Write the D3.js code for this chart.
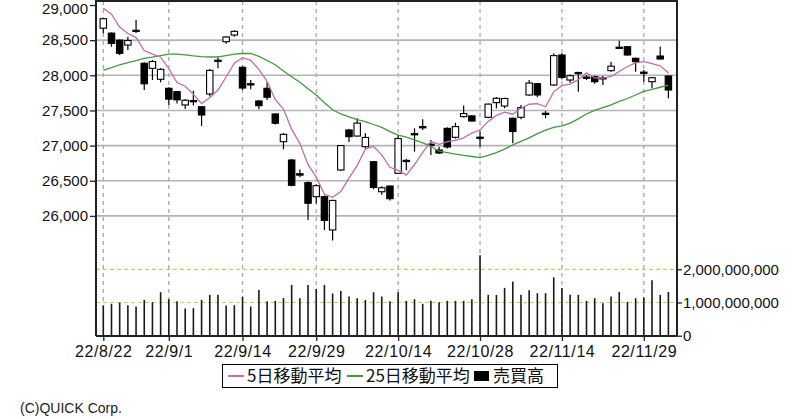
<!DOCTYPE html>
<html><head><meta charset="utf-8">
<script src="https://cdn.jsdelivr.net/npm/d3@7"></script>
<style>body{margin:0;background:#fff}svg{display:block}</style>
</head><body><svg id="c" width="800" height="419"></svg>
<script>
const dates = ["22/8/22","22/8/23","22/8/24","22/8/25","22/8/26","22/8/29","22/8/30","22/8/31","22/9/1","22/9/2",
"22/9/5","22/9/6","22/9/7","22/9/8","22/9/9","22/9/12","22/9/13","22/9/14","22/9/15","22/9/16",
"22/9/20","22/9/21","22/9/22","22/9/26","22/9/27","22/9/28","22/9/29","22/9/30","22/10/3","22/10/4",
"22/10/5","22/10/6","22/10/7","22/10/11","22/10/12","22/10/13","22/10/14","22/10/17","22/10/18","22/10/19",
"22/10/20","22/10/21","22/10/24","22/10/25","22/10/26","22/10/27","22/10/28","22/10/31","22/11/1","22/11/2",
"22/11/4","22/11/7","22/11/8","22/11/9","22/11/10","22/11/11","22/11/14","22/11/15","22/11/16","22/11/17",
"22/11/18","22/11/21","22/11/22","22/11/24","22/11/25","22/11/28","22/11/29","22/11/30","22/12/1","22/12/2"];
const open = [28670,28600,28500,28430,28630,28171,28099,27943,27815,27767,
27578,27640,27553,27734,28200,28478,28573,28114,27880,27635,
27815,27450,27056,26795,26600,26473,26273,26273,25800,26653,
27222,27136,26984,26771,26344,26425,26606,26790,27170,27270,
27020,26937,27245,27118,27412,27422,27120,27403,27611,27563,
27389,27403,27720,27880,27460,27862,28289,27933,28040,27975,
27980,27965,28066,28400,28407,28242,28045,27909,28274,27990];
const high = [28815,28610,28510,28549,28787,28185,28218,28100,27830,27775,
27660,27780,27560,28090,28265,28560,28640,28130,27933,27640,
27910,27460,27180,26810,26660,26490,26450,26290,26230,27010,
27235,27390,27175,26780,26420,26430,27150,26810,27246,27375,
27080,26984,27260,27325,27570,27430,27200,27600,27690,27680,
27400,27578,27933,27890,27492,28313,28313,28010,28052,28004,
27995,27990,28193,28492,28410,28250,28075,27975,28410,28000];
const low = [28597,28407,28289,28360,28600,27791,27933,27900,27578,27600,
27520,27570,27279,27700,28100,28450,28550,27790,27800,27516,
27649,27300,26947,26420,26550,25942,26180,25800,25650,26640,
27050,27130,26960,26380,26300,26220,26600,26650,26914,27222,
26866,26880,26960,27100,27400,27340,26984,27390,27530,27530,
27033,27375,27710,27687,27389,27848,27943,27895,27767,27933,
27880,27862,28050,28384,28280,28050,27909,27815,28225,27673];
const close = [28805,28453,28313,28495,28641,27879,28196,28085,27661,27651,
27645,27627,27435,28070,28215,28545,28625,27819,27876,27568,
27688,27318,27160,26435,26580,26180,26430,25937,26220,27000,
27127,27320,27116,26405,26400,26245,27100,26776,27160,27257,
27010,26895,26980,27270,27455,27350,27110,27590,27673,27670,
27200,27540,27890,27720,27446,28280,27970,27995,28028,27960,
27909,27955,28130,28395,28289,28193,28030,27966,28232,27791];
const ma5 = [28952,28869,28687,28594,28536,28353,28302,28257,28094,27896,
27844,27730,27598,27679,27791,27976,28173,28251,28213,28084,
27913,27653,27520,27231,27032,26729,26551,26307,26264,26348,
26538,26715,26951,26988,26869,26692,26648,26580,26731,26903,
27057,27017,27057,27076,27111,27179,27221,27344,27430,27476,
27447,27531,27588,27596,27552,27765,27852,27876,27938,28035,
27962,27959,27984,28055,28125,28178,28195,28165,28134,28033];
const ma25 = [28070,28110,28150,28180,28210,28240,28260,28280,28300,28300,
28290,28275,28265,28260,28262,28280,28300,28310,28310,28270,
28210,28150,28060,27980,27900,27810,27720,27610,27510,27450,
27410,27370,27340,27300,27260,27200,27150,27120,27080,27040,
26990,26920,26900,26880,26860,26845,26830,26860,26900,26950,
27010,27060,27110,27170,27220,27260,27280,27320,27380,27450,
27500,27540,27580,27630,27670,27720,27770,27800,27830,27860];
const volume = [910e6,960e6,1000e6,920e6,880e6,1080e6,1010e6,1310e6,1100e6,1040e6,
820e6,830e6,1080e6,1230e6,1230e6,910e6,920e6,1180e6,880e6,1380e6,
1040e6,1050e6,1130e6,1530e6,1130e6,1530e6,1410e6,1530e6,1270e6,1350e6,
1180e6,1130e6,1080e6,1310e6,1180e6,1040e6,1310e6,1050e6,1100e6,960e6,
1050e6,1010e6,1050e6,1050e6,1050e6,1100e6,2420e6,1230e6,1230e6,1440e6,
1630e6,1230e6,1370e6,1280e6,1280e6,1760e6,1440e6,1230e6,1230e6,1050e6,
1130e6,980e6,1180e6,1320e6,1020e6,1130e6,1150e6,1670e6,1230e6,1320e6];
const xTickLabels = ["22/8/22","22/9/1","22/9/14","22/9/29","22/10/14","22/10/28","22/11/14","22/11/29"];
const priceTicks = [26000,26500,27000,27500,28000,28500,29000];
const volumeTicks = [0,1000000000,2000000000];
const legendLabels = ["5日移動平均","25日移動平均","売買高"];

const svg = d3.select('#c');
const L = 96, R = 677, T = 1, B = 336;
const x = d3.scalePoint().domain(dates).range([103.3, 668.4]);
const y = d3.scaleLinear().domain([26000, 29000]).range([215.9, 5]);
const yv = d3.scaleLinear().domain([0, 2e9]).range([335.7, 269.3]);
const numFont = "'Liberation Sans', Arial, sans-serif";
const jpFont = "'Noto Sans CJK JP', sans-serif";

svg.append('rect').attr('width', 800).attr('height', 419).attr('fill', '#fff');

// horizontal price grid
svg.append('g').selectAll('line').data(priceTicks.filter(v => v < 29000)).join('line')
  .attr('x1', L).attr('x2', R).attr('y1', d => y(d)).attr('y2', d => y(d))
  .attr('stroke', '#b4b4b4').attr('stroke-width', 1.6);
// volume dashed grid
svg.append('g').selectAll('line').data(volumeTicks.filter(v => v > 0)).join('line')
  .attr('x1', L).attr('x2', R).attr('y1', d => yv(d)).attr('y2', d => yv(d))
  .attr('stroke', '#d8c860').attr('stroke-width', 1.2).attr('stroke-dasharray', '4,3');
// vertical dashed grid
svg.append('g').selectAll('line').data(xTickLabels).join('line')
  .attr('x1', d => x(d)).attr('x2', d => x(d)).attr('y1', T).attr('y2', B)
  .attr('stroke', '#a8a8a8').attr('stroke-width', 1.3).attr('stroke-dasharray', '4,4');

// volume bars
svg.append('g').selectAll('line').data(dates).join('line')
  .attr('x1', d => x(d)).attr('x2', d => x(d))
  .attr('y1', yv(0)).attr('y2', (d, i) => yv(volume[i]))
  .attr('stroke', '#1a1a1a').attr('stroke-width', 1.6);

// candles
const cg = svg.append('g');
dates.forEach((d, i) => {
  const cx = x(d);
  cg.append('line').attr('x1', cx).attr('x2', cx).attr('y1', y(high[i])).attr('y2', y(low[i]))
    .attr('stroke', '#000').attr('stroke-width', 1.2);
  const top = y(Math.max(open[i], close[i])), bot = y(Math.min(open[i], close[i]));
  const up = close[i] >= open[i];
  const h = Math.max(bot - top, 1.2);
  cg.append('rect').attr('x', cx - 3.2).attr('width', 6.4).attr('y', top).attr('height', h)
    .attr('fill', up ? '#fff' : '#000').attr('stroke', '#000').attr('stroke-width', 1.1);
});

// moving averages
const line = arr => d3.line().x((d, i) => x(dates[i])).y(d => y(d))(arr);
svg.append('path').attr('d', line(ma25)).attr('fill', 'none').attr('stroke', '#3c9c3c').attr('stroke-width', 1.3);
svg.append('path').attr('d', line(ma5)).attr('fill', 'none').attr('stroke', '#c46bb2').attr('stroke-width', 1.3);

// frame
const fr = svg.append('g').attr('stroke', '#222').attr('stroke-width', 2);
fr.append('line').attr('x1', L).attr('x2', R).attr('y1', T).attr('y2', T);
fr.append('line').attr('x1', L).attr('x2', L).attr('y1', 0).attr('y2', B);
fr.append('line').attr('x1', R).attr('x2', R).attr('y1', 0).attr('y2', B);
fr.append('line').attr('x1', L).attr('x2', R).attr('y1', B).attr('y2', B);

// axes
const ay = svg.append('g').attr('transform', `translate(${L},0)`)
  .call(d3.axisLeft(y).tickValues(priceTicks).tickFormat(d3.format(',')).tickSize(6).tickPadding(2));
const av = svg.append('g').attr('transform', `translate(${R},0)`)
  .call(d3.axisRight(yv).tickValues(volumeTicks).tickFormat(d3.format(',')).tickSize(5).tickPadding(1));
const ax = svg.append('g').attr('transform', `translate(0,${B})`)
  .call(d3.axisBottom(x).tickValues(xTickLabels).tickSize(5).tickPadding(5));
[ay, av, ax].forEach(g => {
  g.select('.domain').remove();
  g.selectAll('.tick line').attr('stroke', '#222').attr('stroke-width', 1.3);
  g.selectAll('text').attr('fill', '#111').style('font-family', numFont).style('font-size', '15px');
});
ax.selectAll('text').style('font-size', '16px').style('letter-spacing', '0.6px');
// keep the top label inside the page
ay.selectAll('.tick').filter(d => d === 29000).select('text').attr('dy', '0.55em');

// legend
const lg = svg.append('g');
lg.append('rect').attr('x', 222.5).attr('y', 364.5).attr('width', 335).attr('height', 23)
  .attr('fill', '#fff').attr('stroke', '#000').attr('stroke-width', 1);
lg.append('line').attr('x1', 228).attr('x2', 244).attr('y1', 376).attr('y2', 376).attr('stroke', '#c46bb2').attr('stroke-width', 2);
lg.append('text').attr('x', 247).attr('y', 382).text(legendLabels[0]);
lg.append('line').attr('x1', 347).attr('x2', 363).attr('y1', 376).attr('y2', 376).attr('stroke', '#3c9c3c').attr('stroke-width', 2);
lg.append('text').attr('x', 366).attr('y', 382).text(legendLabels[1]);
lg.append('rect').attr('x', 474).attr('y', 371).attr('width', 15).attr('height', 10).attr('fill', '#000');
lg.append('text').attr('x', 493).attr('y', 382).text(legendLabels[2]);
lg.selectAll('text').style('font-family', jpFont).style('font-size', '17px').attr('fill', '#111');

svg.append('text').attr('x', 20).attr('y', 413).text('(C)QUICK Corp.')
  .style('font-family', numFont).style('font-size', '14px').attr('fill', '#222');
</script>
</body></html>
